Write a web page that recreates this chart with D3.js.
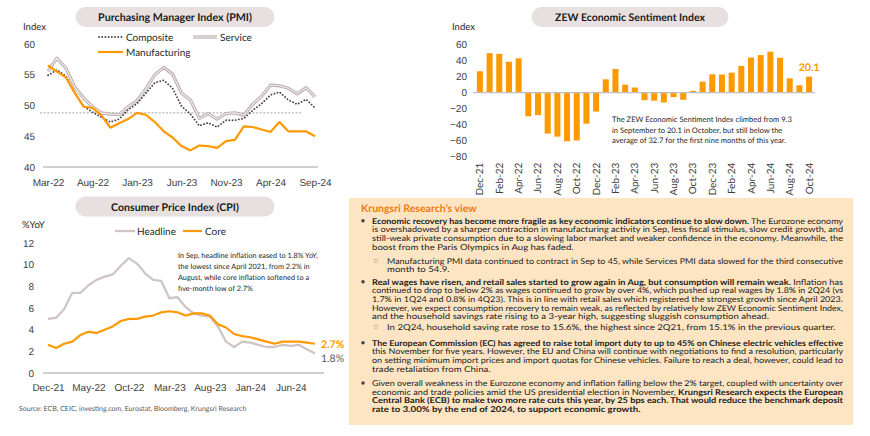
<!DOCTYPE html>
<html>
<head>
<meta charset="utf-8">
<script src="https://cdn.jsdelivr.net/npm/d3@7"></script>
<style>
  body { margin: 0; background: #fff; }
  svg { display: block; font-family: Lato, sans-serif; text-rendering: geometricPrecision; }
</style>
</head>
<body>
<svg id="chart" width="870" height="436"></svg>
<script>
// PMI, Mar-22 .. Sep-24
const pmiMonths = ['Mar-22', 'Apr-22', 'May-22', 'Jun-22', 'Jul-22', 'Aug-22', 'Sep-22', 'Oct-22', 'Nov-22', 'Dec-22',
  'Jan-23', 'Feb-23', 'Mar-23', 'Apr-23', 'May-23', 'Jun-23', 'Jul-23', 'Aug-23', 'Sep-23', 'Oct-23', 'Nov-23', 'Dec-23',
  'Jan-24', 'Feb-24', 'Mar-24', 'Apr-24', 'May-24', 'Jun-24', 'Jul-24', 'Aug-24', 'Sep-24']
const pmiComposite = [54.9, 55.8, 54.8, 52.0, 49.9, 48.9, 48.1, 47.3, 47.8, 49.3,
  50.3, 52.0, 53.7, 54.1, 52.8, 49.9, 48.6, 46.7, 47.2, 46.5, 47.6, 47.6,
  47.9, 49.2, 50.3, 51.7, 52.2, 50.9, 50.2, 51.0, 49.6]
const pmiService = [55.6, 57.7, 56.1, 53.0, 51.2, 49.8, 48.8, 48.6, 48.5, 49.8,
  50.8, 52.7, 55.0, 56.2, 55.1, 52.0, 50.9, 47.9, 48.7, 47.8, 48.7, 48.8,
  48.4, 50.2, 51.5, 53.3, 53.2, 52.8, 51.9, 52.9, 51.4]
const pmiManufacturing = [56.5, 55.5, 54.6, 52.1, 49.8, 49.6, 48.4, 46.4, 47.1, 47.8,
  48.8, 48.5, 47.3, 45.8, 44.8, 43.4, 42.7, 43.5, 43.4, 43.1, 44.2, 44.4,
  46.6, 46.5, 46.1, 45.7, 47.3, 45.8, 45.8, 45.8, 45.0]
const pmiTicks = [40, 45, 50, 55, 60]
const pmiRefLine = 48.8

// ZEW, Dec-21 .. Oct-24
const zewMonths = ['Dec-21', 'Jan-22', 'Feb-22', 'Mar-22', 'Apr-22', 'May-22', 'Jun-22', 'Jul-22', 'Aug-22', 'Sep-22', 'Oct-22', 'Nov-22', 'Dec-22',
  'Jan-23', 'Feb-23', 'Mar-23', 'Apr-23', 'May-23', 'Jun-23', 'Jul-23', 'Aug-23', 'Sep-23', 'Oct-23', 'Nov-23', 'Dec-23',
  'Jan-24', 'Feb-24', 'Mar-24', 'Apr-24', 'May-24', 'Jun-24', 'Jul-24', 'Aug-24', 'Sep-24', 'Oct-24']
const zewValues = [26.8, 49.4, 48.6, 38.7, 43.0, -29.5, -28.0, -51.1, -54.9, -60.7, -59.7, -38.7, -23.6,
  16.7, 29.7, 10.0, 6.4, -9.4, -10.0, -12.2, -5.5, -8.9, 2.3, 13.8, 23.0,
  22.7, 25.0, 33.5, 43.9, 47.0, 51.3, 43.7, 17.9, 9.3, 20.1]
const zewTicks = [-80, -60, -40, -20, 0, 20, 40, 60]

// CPI, Dec-21 .. Sep-24
const cpiMonths = ['Dec-21', 'Jan-22', 'Feb-22', 'Mar-22', 'Apr-22', 'May-22', 'Jun-22', 'Jul-22', 'Aug-22', 'Sep-22', 'Oct-22', 'Nov-22', 'Dec-22',
  'Jan-23', 'Feb-23', 'Mar-23', 'Apr-23', 'May-23', 'Jun-23', 'Jul-23', 'Aug-23', 'Sep-23', 'Oct-23', 'Nov-23', 'Dec-23',
  'Jan-24', 'Feb-24', 'Mar-24', 'Apr-24', 'May-24', 'Jun-24', 'Jul-24', 'Aug-24', 'Sep-24']
const cpiHeadline = [5.0, 5.1, 5.9, 7.4, 7.4, 8.1, 8.6, 8.9, 9.1, 9.9, 10.6, 10.1, 9.2,
  8.6, 8.5, 6.9, 7.0, 6.1, 5.5, 5.3, 5.2, 4.3, 2.9, 2.4, 2.9,
  2.8, 2.6, 2.4, 2.4, 2.6, 2.5, 2.6, 2.2, 1.8]
const cpiCore = [2.6, 2.3, 2.7, 2.9, 3.5, 3.8, 3.7, 4.0, 4.3, 4.8, 5.0, 5.0, 5.2,
  5.3, 5.6, 5.7, 5.6, 5.3, 5.5, 5.5, 5.3, 4.5, 4.2, 3.6, 3.4,
  3.3, 3.1, 2.9, 2.7, 2.9, 2.9, 2.9, 2.8, 2.7]
const cpiTicks = [0, 2, 4, 6, 8, 10, 12]

const zewNote = ['The ZEW Economic Sentiment Index climbed from 9.3',
  'in September to 20.1 in October, but still below the',
  'average of 32.7 for the first nine months of this year.']
const cpiNote = ['In Sep, headline inflation eased to 1.8% YoY,',
  'the lowest since April 2021, from 2.2% in',
  'August, while core inflation softened to a',
  'five-month low of 2.7%']

// b = bold run, n = normal run; one inner array per printed line
const viewParas = [
  { sub: false, lines: [
    [['b', 'Economic recovery has become more fragile as key economic indicators continue to slow down.'], ['n', ' The Eurozone economy']],
    [['n', 'is overshadowed by a sharper contraction in manufacturing activity in Sep, less fiscal stimulus, slow credit growth, and']],
    [['n', 'still-weak private consumption due to a slowing labor market and weaker confidence in the economy. Meanwhile, the']],
    [['n', 'boost from the Paris Olympics in Aug has faded.']]] },
  { sub: true, lines: [
    [['n', 'Manufacturing PMI data continued to contract in Sep to 45, while Services PMI data slowed for the third consecutive']],
    [['n', 'month to 54.9.']]] },
  { sub: false, lines: [
    [['b', 'Real wages have risen, and retail sales started to grow again in Aug, but consumption will remain weak.'], ['n', ' Inflation has']],
    [['n', 'continued to drop to below 2% as wages continued to grow by over 4%, which pushed up real wages by 1.8% in 2Q24 (vs']],
    [['n', '1.7% in 1Q24 and 0.8% in 4Q23). This is in line with retail sales which registered the strongest growth since April 2023.']],
    [['n', 'However, we expect consumption recovery to remain weak, as reflected by relatively low ZEW Economic Sentiment Index,']],
    [['n', 'and the household savings rate rising to a 3-year high, suggesting sluggish consumption ahead.']]] },
  { sub: true, lines: [
    [['n', 'In 2Q24, household saving rate rose to 15.6%, the highest since 2Q21, from 15.1% in the previous quarter.']]] },
  { sub: false, lines: [
    [['b', 'The European Commission (EC) has agreed to raise total import duty to up to 45% on Chinese electric vehicles effective']],
    [['n', 'this November for five years. However, the EU and China will continue with negotiations to find a resolution, particularly']],
    [['n', 'on setting minimum import prices and import quotas for Chinese vehicles. Failure to reach a deal, however, could lead to']],
    [['n', 'trade retaliation from China.']]] },
  { sub: false, lines: [
    [['n', 'Given overall weakness in the Eurozone economy and inflation falling below the 2% target, coupled with uncertainty over']],
    [['n', 'economic and trade policies amid the US presidential election in November, '], ['b', 'Krungsri Research expects the European']],
    [['b', 'Central Bank (ECB) to make two more rate cuts this year, by 25 bps each. That would reduce the benchmark deposit']],
    [['b', 'rate to 3.00% by the end of 2024, to support economic growth.']]] }
]

const ORANGE = '#ff9900'
const TXT = '#262626'
const svg = d3.select('#chart')

// font size that makes `str` come out `width` px wide
function sizeFor (str, width, weight) {
  const probe = svg.append('text').attr('font-size', 10).attr('font-weight', weight || 'normal').text(str)
  const w = probe.node().getComputedTextLength()
  probe.remove()
  return 10 * width / w
}

function pill (cx, cy, w, label, textW) {
  svg.append('rect')
    .attr('x', cx - w / 2).attr('y', cy - 10)
    .attr('width', w).attr('height', 20)
    .attr('rx', 10)
    .attr('fill', '#e8e0df')
  svg.append('text')
    .attr('x', cx).attr('y', cy + 4)
    .attr('text-anchor', 'middle')
    .attr('font-size', Math.min(11.5, sizeFor(label, textW, 'bold')))
    .attr('font-weight', 'bold')
    .attr('fill', '#1a1a1a')
    .text(label)
}

function styleAxis (g) {
  g.select('.domain').remove()
  g.selectAll('text').attr('font-size', 10).attr('fill', '#404040').attr('font-family', null)
}

function note (x, y, lines, step, size) {
  const t = svg.append('text').attr('font-size', size).attr('fill', TXT)
  lines.forEach((l, i) => {
    t.append('tspan').attr('x', x).attr('y', y + i * step).text(l)
  })
}

function drawPmi () {
  pill(175, 17, 199, 'Purchasing Manager Index (PMI)', 154)
  svg.append('text').attr('x', 23).attr('y', 30).attr('font-size', 9.5).attr('fill', TXT).text('Index')

  const x = d3.scalePoint().domain(pmiMonths).range([48, 315])
  const y = d3.scaleLinear().domain([40, 60]).range([167, 44])

  svg.append('g').attr('transform', 'translate(35,0)')
    .call(d3.axisLeft(y).tickValues(pmiTicks).tickSize(0).tickPadding(0))
    .call(styleAxis)
  svg.append('line')
    .attr('x1', 43).attr('x2', 318).attr('y1', y(40)).attr('y2', y(40))
    .attr('stroke', '#bfbfbf').attr('stroke-width', 1.5)
  svg.append('g').attr('transform', `translate(0,${y(40)})`)
    .call(d3.axisBottom(x).tickValues(pmiMonths.filter((d, i) => i % 5 === 0)).tickSize(0).tickPadding(11.5))
    .call(styleAxis)

  // threshold line
  svg.append('line')
    .attr('x1', x(pmiMonths[0]) - 8).attr('x2', x(pmiMonths[29]) - 4)
    .attr('y1', y(pmiRefLine)).attr('y2', y(pmiRefLine))
    .attr('stroke', '#8c8c8c').attr('stroke-width', 0.8).attr('stroke-dasharray', '2,1.6')

  const line = d3.line().x((d, i) => x(pmiMonths[i])).y(d => y(d))

  svg.append('path').datum(pmiService).attr('d', line)
    .attr('fill', 'none').attr('stroke', '#bcaeae').attr('stroke-width', 3.2).attr('stroke-linejoin', 'round')
  svg.append('path').datum(pmiService).attr('d', line)
    .attr('fill', 'none').attr('stroke', '#f1ecec').attr('stroke-width', 1.1).attr('stroke-linejoin', 'round')
  svg.append('path').datum(pmiComposite).attr('d', line)
    .attr('fill', 'none').attr('stroke', '#4a4242').attr('stroke-width', 1.8)
    .attr('stroke-linecap', 'round').attr('stroke-dasharray', '0.1,3.1')
  svg.append('path').datum(pmiManufacturing).attr('d', line)
    .attr('fill', 'none').attr('stroke', ORANGE).attr('stroke-width', 2.2).attr('stroke-linejoin', 'round')

  // legend
  svg.append('line').attr('x1', 99).attr('x2', 122).attr('y1', 37).attr('y2', 37)
    .attr('stroke', '#4a4242').attr('stroke-width', 1.8).attr('stroke-linecap', 'round').attr('stroke-dasharray', '0.1,3.1')
  svg.append('text').attr('x', 126).attr('y', 40.5).attr('font-size', 10).attr('fill', TXT).text('Composite')
  svg.append('line').attr('x1', 193).attr('x2', 217).attr('y1', 37).attr('y2', 37)
    .attr('stroke', '#bcaeae').attr('stroke-width', 3.2)
  svg.append('line').attr('x1', 193).attr('x2', 217).attr('y1', 37).attr('y2', 37)
    .attr('stroke', '#f1ecec').attr('stroke-width', 1.1)
  svg.append('text').attr('x', 220).attr('y', 40.5).attr('font-size', 10).attr('fill', TXT).text('Service')
  svg.append('line').attr('x1', 98).attr('x2', 123).attr('y1', 52).attr('y2', 52)
    .attr('stroke', ORANGE).attr('stroke-width', 2.2)
  svg.append('text').attr('x', 126).attr('y', 55.5).attr('font-size', 10).attr('fill', TXT).text('Manufacturing')
}

function drawZew () {
  pill(630, 17, 197, 'ZEW Economic Sentiment Index', 150)
  svg.append('text').attr('x', 452).attr('y', 30).attr('font-size', 9.5).attr('fill', TXT).text('Index')

  const x = d3.scaleBand().domain(zewMonths).range([474, 815]).paddingInner(0.38).paddingOuter(0.3)
  const y = d3.scaleLinear().domain([-80, 60]).range([156.7, 44.7])

  svg.append('g').attr('transform', 'translate(467,0)')
    .call(d3.axisLeft(y).tickValues(zewTicks).tickSize(0).tickPadding(0))
    .call(styleAxis)

  svg.append('g').selectAll('rect')
    .data(zewValues)
    .join('rect')
    .attr('x', (d, i) => x(zewMonths[i]))
    .attr('y', d => y(Math.max(0, d)))
    .attr('width', x.bandwidth())
    .attr('height', d => Math.abs(y(d) - y(0)))
    .attr('fill', ORANGE)

  svg.append('line')
    .attr('x1', 473).attr('x2', 815).attr('y1', y(0)).attr('y2', y(0))
    .attr('stroke', '#bfbfbf').attr('stroke-width', 1.2)

  svg.append('g').selectAll('text')
    .data(zewMonths.filter((d, i) => i % 2 === 0))
    .join('text')
    .attr('transform', d => `translate(${x(d) + x.bandwidth() / 2},${y(-80) + 6}) rotate(-90)`)
    .attr('dy', '0.35em')
    .attr('text-anchor', 'end')
    .attr('font-size', 10)
    .attr('fill', '#404040')
    .text(d => d)

  const last = zewValues[zewValues.length - 1]
  svg.append('text')
    .attr('x', x(zewMonths[zewMonths.length - 1]) + x.bandwidth() / 2)
    .attr('y', y(last) - 6)
    .attr('text-anchor', 'middle')
    .attr('font-size', 10.5)
    .attr('font-weight', 'bold')
    .attr('fill', ORANGE)
    .text(last.toFixed(1))

  note(612, 122, zewNote, 10.6, sizeFor(zewNote[0], 180))
}

function drawCpi () {
  pill(175, 206.5, 199, 'Consumer Price Index (CPI)', 128)
  svg.append('text').attr('x', 22).attr('y', 227.5).attr('font-size', 9.5).attr('fill', TXT).text('%YoY')

  const x = d3.scalePoint().domain(cpiMonths).range([48, 315])
  const y = d3.scaleLinear().domain([0, 12]).range([373, 243])

  svg.append('g').attr('transform', 'translate(34,0)')
    .call(d3.axisLeft(y).tickValues(cpiTicks).tickSize(0).tickPadding(0))
    .call(styleAxis)
  svg.append('line')
    .attr('x1', 43).attr('x2', 324).attr('y1', y(0)).attr('y2', y(0))
    .attr('stroke', '#bfbfbf').attr('stroke-width', 1.5)
  svg.append('g').attr('transform', `translate(0,${y(0)})`)
    .call(d3.axisBottom(x).tickValues(cpiMonths.filter((d, i) => i % 5 === 0)).tickSize(0).tickPadding(10.5))
    .call(styleAxis)

  const line = d3.line().x((d, i) => x(cpiMonths[i])).y(d => y(d))
  svg.append('path').datum(cpiHeadline).attr('d', line)
    .attr('fill', 'none').attr('stroke', '#cfc5c4').attr('stroke-width', 2.3).attr('stroke-linejoin', 'round')
  svg.append('path').datum(cpiCore).attr('d', line)
    .attr('fill', 'none').attr('stroke', ORANGE).attr('stroke-width', 2.2).attr('stroke-linejoin', 'round')

  // legend
  svg.append('line').attr('x1', 115).attr('x2', 135).attr('y1', 231).attr('y2', 231)
    .attr('stroke', '#cfc5c4').attr('stroke-width', 2.3)
  svg.append('text').attr('x', 137).attr('y', 234.5).attr('font-size', 10).attr('fill', TXT).text('Headline')
  svg.append('line').attr('x1', 183).attr('x2', 202).attr('y1', 231).attr('y2', 231)
    .attr('stroke', ORANGE).attr('stroke-width', 2.2)
  svg.append('text').attr('x', 205).attr('y', 234.5).attr('font-size', 10).attr('fill', TXT).text('Core')

  const lastCore = cpiCore[cpiCore.length - 1]
  const lastHead = cpiHeadline[cpiHeadline.length - 1]
  svg.append('text').attr('x', 321).attr('y', y(lastCore) + 4)
    .attr('font-size', 10.5).attr('font-weight', 'bold').attr('fill', ORANGE)
    .text(lastCore.toFixed(1) + '%')
  svg.append('text').attr('x', 321).attr('y', y(lastHead) + 8)
    .attr('font-size', 10.5).attr('fill', '#595959')
    .text(lastHead.toFixed(1) + '%')

  note(178, 258, cpiNote, 10.9, sizeFor(cpiNote[0], 140))

  const src = 'Source: ECB, CEIC, investing.com, Eurostat, Bloomberg, Krungsri Research'
  svg.append('text').attr('x', 19).attr('y', 410.5)
    .attr('font-size', sizeFor(src, 228)).attr('fill', '#595959')
    .text(src)
}

function drawView () {
  svg.append('rect')
    .attr('x', 349).attr('y', 198).attr('width', 504).attr('height', 227)
    .attr('fill', '#fde5c4')
  const head = 'Krungsri Research’s view'
  svg.append('text')
    .attr('x', 361).attr('y', 212)
    .attr('font-size', Math.min(11.5, sizeFor(head, 116, 'bold'))).attr('font-weight', 'bold').attr('fill', '#ee7a10')
    .text(head)

  // glyph height stays at fs; runs are stretched by k so that the one-line
  // sub bullet comes out as wide as in the original (449px)
  const fs = 8.1
  const k = Math.max(1, sizeFor(viewParas[3].lines[0][0][1], 449) / fs)
  const tops = [220.7, 260.7, 281.7, 326.7, 342.7, 383]
  const step = 8.7
  const right = 843
  viewParas.forEach((p, i) => {
    const left = p.sub ? 387 : 372
    if (p.sub) {
      svg.append('rect').attr('x', 374.5).attr('y', tops[i] - 1.5).attr('width', 3).attr('height', 3)
        .attr('fill', 'none').attr('stroke', '#b0a8a0').attr('stroke-width', 0.6)
    } else {
      svg.append('circle').attr('cx', 363).attr('cy', tops[i]).attr('r', 1.7).attr('fill', '#404040')
    }
    p.lines.forEach((segs, j) => {
      const y = tops[i] + j * step + 2.9
      // one text per run, so bold and normal parts never share a box
      const runs = segs.map(s => svg.append('text')
        .attr('y', y)
        .attr('xml:space', 'preserve')
        .attr('font-size', fs)
        .attr('font-weight', s[0] === 'b' ? 'bold' : 'normal')
        .attr('fill', '#1a1a1a')
        .text(s[1]))
      const widths = runs.map(t => t.node().getComputedTextLength())
      const natural = d3.sum(widths)
      const full = right - left
      const target = j < p.lines.length - 1 ? full : Math.min(full, natural * k)
      let cx = left
      runs.forEach((t, m) => {
        const w = widths[m] * target / natural
        t.attr('x', cx).attr('textLength', w).attr('lengthAdjust', 'spacingAndGlyphs')
        cx += w
      })
    })
  })
}

drawPmi()
drawZew()
drawCpi()
drawView()
</script>
</body>
</html>
